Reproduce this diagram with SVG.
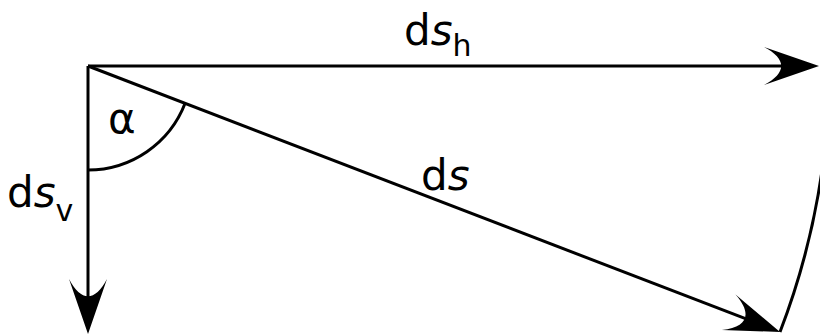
<svg xmlns="http://www.w3.org/2000/svg" width="820" height="335" viewBox="0 0 820 335">
  <style>
    .ln { stroke: #000; stroke-width: 3; fill: none; }
    .arr { marker-end: url(#head); }
    .lbl { font-family: "DejaVu Sans", sans-serif; font-size: 42px; fill: #000; }
    .it { font-style: italic; }
    .sub { font-size: 30px; }
  </style>
  <defs>
    <marker id="head" viewBox="-60 -22 62 44" refX="-37" refY="0" markerWidth="62" markerHeight="44" markerUnits="userSpaceOnUse" orient="auto">
      <path d="M0,0 L-55,-19 C-32,-7 -32,7 -55,19 Z" fill="#000"/>
    </marker>
  </defs>
  <rect width="820" height="335" fill="#fff"/>
  <g id="connectors">
    <line class="ln arr" x1="88" y1="66" x2="782" y2="66"/>
    <line class="ln arr" x1="88" y1="66" x2="88" y2="297"/>
    <line class="ln arr" x1="88" y1="66" x2="745.5" y2="318.7"/>
    <path class="ln" d="M780,332 A741.4,741.4 0 0 0 826.6,130.6"/>
    <path class="ln" d="M88,170 A104,104 0 0 0 185.1,103.3"/>
  </g>
  <g id="label-dsh"><text class="lbl" x="404" y="45">d<tspan class="it">s</tspan><tspan class="sub" dy="11">h</tspan></text></g>
  <g id="label-ds"><text class="lbl" x="421" y="190">d<tspan class="it">s</tspan></text></g>
  <g id="label-dsv"><text class="lbl" x="7" y="207">d<tspan class="it">s</tspan><tspan class="sub" dy="14">v</tspan></text></g>
  <g id="label-alpha"><text class="lbl" x="108" y="133">α</text></g>
</svg>
